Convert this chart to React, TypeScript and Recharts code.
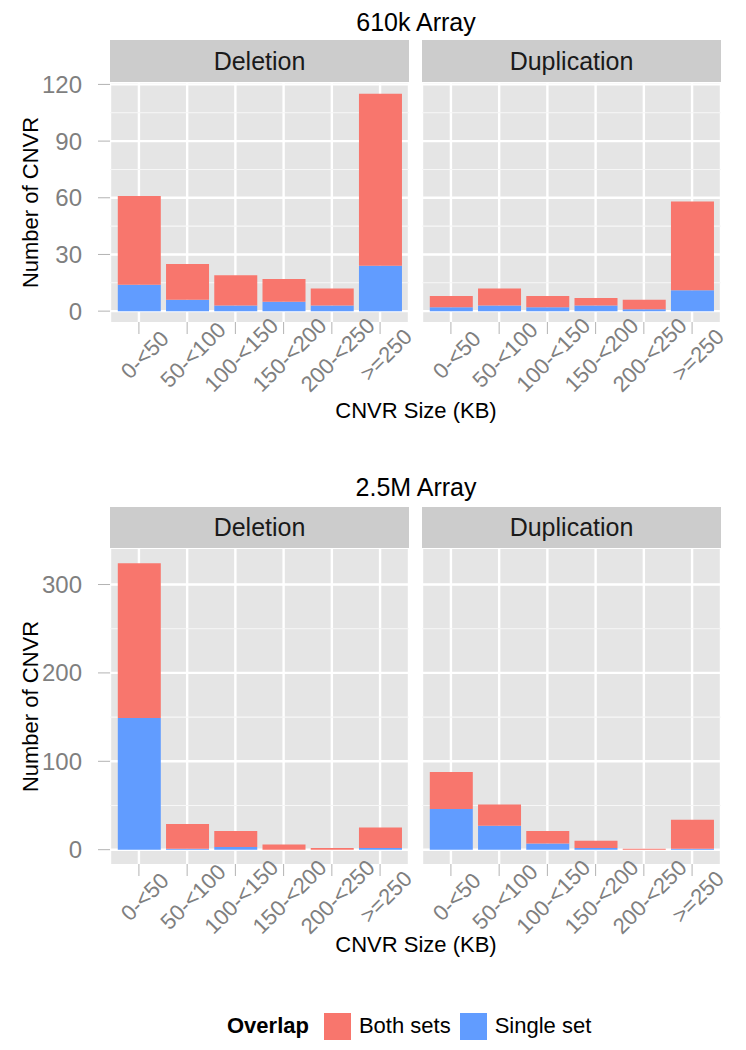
import React from "react"
import { BarChart, Bar, XAxis, YAxis, CartesianGrid, Label } from "recharts"

const categories = ["0-<50", "50-<100", "100-<150", "150-<200", "200-<250", ">=250"]

// 610k array
const del610Both = [47, 19, 16, 12, 9, 91]
const del610Single = [14, 6, 3, 5, 3, 24]
const dup610Both = [6, 9, 6, 4, 5, 47]
const dup610Single = [2, 3, 2, 3, 1, 11]

// 2.5M array
const del25Both = [175, 28, 18, 6, 2, 23]
const del25Single = [149, 1, 3, 0, 0, 2]
const dup25Both = [42, 24, 14, 8, 1, 33]
const dup25Single = [46, 27, 7, 2, 0, 1]

const ticks610 = [0, 30, 60, 90, 120]
const minor610 = [15, 45, 75, 105]
const ticks25 = [0, 100, 200, 300]
const minor25 = [50, 150, 250]

const BOTH_COLOR = "#F8766D"
const SINGLE_COLOR = "#619CFF"
const FONT = "'Liberation Sans', Arial, sans-serif"
const TICK_GREY = "#7F7F7F"

const PLOT_W = 299
const X_AXIS_H = 100
const Y_AXIS_W = 110
const TOP_PAD = 20

const buildRows = (both: number[], single: number[]) =>
  categories.map((size, i) => ({ size, both: both[i], single: single[i] }))

// ggplot style expansion: 5% below 0 and above the tallest stack
const expandDomain = (rows: { both: number; single: number }[][]) => {
  const max = Math.max(...rows.flat().map(r => r.both + r.single))
  return [-0.05 * max, 1.05 * max]
}

const XTick = (props: any) => {
  const { x, y, payload } = props
  const ay = y + 15
  return (
    <text
      x={x}
      y={ay}
      dy="0.72em"
      textAnchor="middle"
      transform={`rotate(-45, ${x}, ${ay})`}
      fill={TICK_GREY}
      fontSize={22}
      fontFamily={FONT}
    >
      {payload.value}
    </text>
  )
}

const Panel = (props: {
  rows: any[]
  showY: boolean
  plotHeight: number
  domain: number[]
  major: number[]
  minor: number[]
}) => {
  const yw = props.showY ? Y_AXIS_W : 0
  return (
    <BarChart
      width={yw + PLOT_W + 40}
      height={props.plotHeight + X_AXIS_H + TOP_PAD}
      data={props.rows}
      margin={{ top: TOP_PAD, right: 40, bottom: 0, left: 0 }}
      barSize={43}
    >
      <CartesianGrid fill="#E5E5E5" stroke="#FFFFFF" strokeWidth={2.4} horizontalValues={props.major} />
      <CartesianGrid stroke="#F7F7F7" strokeWidth={1.1} vertical={false} horizontalValues={props.minor} />
      <XAxis
        dataKey="size"
        type="category"
        interval={0}
        padding={{ left: 4.8, right: 4.8 }}
        height={X_AXIS_H}
        axisLine={false}
        tickSize={12}
        tickMargin={0}
        tickLine={{ stroke: "#B3B3B3" }}
        tick={<XTick />}
      />
      <YAxis
        hide={!props.showY}
        width={yw}
        type="number"
        domain={props.domain}
        ticks={props.major}
        interval={0}
        axisLine={false}
        tickSize={12}
        tickMargin={16}
        tickLine={{ stroke: "#B3B3B3" }}
        tick={{ fill: TICK_GREY, fontSize: 24, fontFamily: FONT }}
      >
        <Label
          value="Number of CNVR"
          angle={-90}
          position="insideLeft"
          offset={30}
          style={{ textAnchor: "middle", fontSize: 22, fill: "#000000", fontFamily: FONT }}
        />
      </YAxis>
      <Bar dataKey="single" stackId="a" fill={SINGLE_COLOR} isAnimationActive={false} />
      <Bar dataKey="both" stackId="a" fill={BOTH_COLOR} isAnimationActive={false} />
    </BarChart>
  )
}

const Strip = (props: { text: string; left: number; top: number; height: number }) => (
  <div
    style={{
      position: "absolute",
      left: props.left,
      top: props.top,
      width: PLOT_W,
      height: props.height,
      lineHeight: props.height + "px",
      background: "#CCCCCC",
      textAlign: "center",
      fontSize: 25,
      color: "#1A1A1A",
    }}
  >
    {props.text}
  </div>
)

const CenterText = (props: { text: string; top: number; size: number }) => (
  <div
    style={{
      position: "absolute",
      left: 110,
      top: props.top,
      width: 612,
      textAlign: "center",
      fontSize: props.size,
      lineHeight: "28px",
      color: "#000000",
    }}
  >
    {props.text}
  </div>
)

const App = () => {
  const del610 = buildRows(del610Both, del610Single)
  const dup610 = buildRows(dup610Both, dup610Single)
  const del25 = buildRows(del25Both, del25Single)
  const dup25 = buildRows(dup25Both, dup25Single)
  const domain610 = expandDomain([del610, dup610])
  const domain25 = expandDomain([del25, dup25])

  return (
    <div
      style={{
        position: "absolute",
        left: 0,
        top: 0,
        width: 746,
        height: 1050,
        background: "#FFFFFF",
        fontFamily: FONT,
      }}
    >
      <CenterText text="610k Array" top={8} size={25} />
      <Strip text="Deletion" left={110} top={40} height={42} />
      <Strip text="Duplication" left={422} top={40} height={42} />
      <div style={{ position: "absolute", left: 0, top: 83 - TOP_PAD }}>
        <Panel rows={del610} showY plotHeight={239} domain={domain610} major={ticks610} minor={minor610} />
      </div>
      <div style={{ position: "absolute", left: 422, top: 83 - TOP_PAD }}>
        <Panel rows={dup610} showY={false} plotHeight={239} domain={domain610} major={ticks610} minor={minor610} />
      </div>
      <CenterText text="CNVR Size (KB)" top={397} size={22} />

      <CenterText text="2.5M Array" top={473} size={25} />
      <Strip text="Deletion" left={110} top={507} height={41} />
      <Strip text="Duplication" left={422} top={507} height={41} />
      <div style={{ position: "absolute", left: 0, top: 549 - TOP_PAD }}>
        <Panel rows={del25} showY plotHeight={315} domain={domain25} major={ticks25} minor={minor25} />
      </div>
      <div style={{ position: "absolute", left: 422, top: 549 - TOP_PAD }}>
        <Panel rows={dup25} showY={false} plotHeight={315} domain={domain25} major={ticks25} minor={minor25} />
      </div>
      <CenterText text="CNVR Size (KB)" top={931} size={22} />

      <div
        style={{
          position: "absolute",
          left: 227,
          top: 1012,
          height: 28,
          display: "flex",
          alignItems: "center",
          fontSize: 22,
          color: "#000000",
        }}
      >
        <span style={{ fontWeight: "bold", marginRight: 15 }}>Overlap</span>
        <span style={{ width: 27, height: 27, background: BOTH_COLOR, marginRight: 8 }} />
        <span style={{ marginRight: 9 }}>Both sets</span>
        <span style={{ width: 27, height: 27, background: SINGLE_COLOR, marginRight: 8 }} />
        <span>Single set</span>
      </div>
    </div>
  )
}

export default App
